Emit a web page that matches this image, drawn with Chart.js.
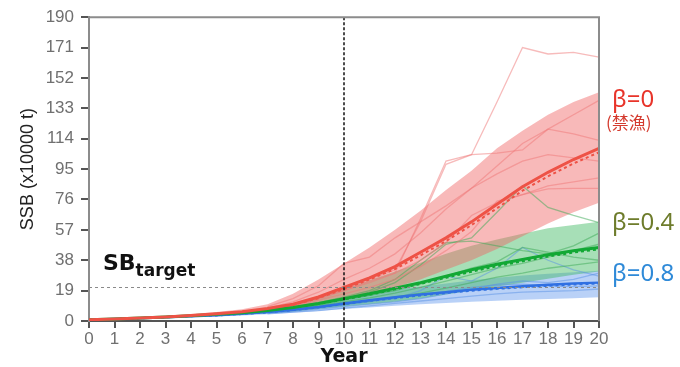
<!DOCTYPE html>
<html>
<head>
<meta charset="utf-8">
<script src="https://cdn.jsdelivr.net/npm/chart.js@4.4.1/dist/chart.umd.min.js"></script>
<style>
  html, body { margin: 0; padding: 0; background: #ffffff; }
  #wrap { width: 680px; height: 367px; }
</style>
</head>
<body>
<div id="wrap"><canvas id="c" width="680" height="367"></canvas></div>
<script>
// Years of the projection and the SSB axis ticks (x10000 t)
const years = [0,1,2,3,4,5,6,7,8,9,10,11,12,13,14,15,16,17,18,19,20];
const yTicks = [0,19,38,57,76,95,114,133,152,171,190];
const sbTarget = 21;
const currentYear = 10;

// β = 0 (no fishing): median, 90% band, mean and sample trajectories
const redMedian = [0.8,1.2,1.8,2.5,3.4,4.5,5.8,7.8,10.5,15,21,27,34,43,52,62,73,84,93,101,108];
const redUpper  = [1,1.5,2.3,3.2,4.3,5.6,7.3,10.5,17,26,36,46,57,69,82,94,108,119,129,137,143];
const redLower  = [0.6,0.9,1.4,2,2.7,3.5,4.5,6,8,10.5,14,17,21,26,32,38,45,53,61,68,74];
const redMean   = [0.8,1.2,1.8,2.5,3.3,4.4,5.6,7.5,10,14.3,20,26,32.5,41,50,60,70.5,81.5,90.5,98.5,105.5];
const redRun1 = [null,null,null,null,null,null,null,7.5,10,15,20,26,32,62,98,104,137,171,167,168,165];
const redRun2 = [null,null,null,null,null,null,null,7,9.5,14,19,25,30,64,100,104,105,107,120,129,138];
const redRun3 = [null,null,null,null,null,null,null,8,12,18,26,33,42,55,70,83,97,111,120,117,113];
const redRun4 = [null,null,null,null,null,null,null,7,10,14,19,24,30,38,49,66,74,79,84.5,87,89.5];
const redRun5 = [null,null,null,null,null,null,null,6.5,9,13,17,21,26,34,44,56,75,79,82.6,83,83];
const redRun6 = [null,null,null,null,null,null,null,9,14,22,36,40,52,62,72,83,92,100,104,102,100];

// β = 0.4
const greenMedian = [0.8,1.2,1.8,2.5,3.3,4.2,5.2,6.6,8.5,11,14,17,20.5,24,28,32,35.5,38.5,41.5,44,46];
const greenUpper  = [1,1.4,2.1,2.9,3.9,5,6.3,8.2,11,15,20,25.5,31,36.5,42,47,51,54.5,58,60,62];
const greenLower  = [0.6,0.9,1.4,2,2.6,3.2,3.9,4.8,6,7.5,9,10.5,12,14,16.5,19,21.5,24,26.5,29,31];
const greenMean   = [0.8,1.2,1.8,2.5,3.2,4.1,5.1,6.4,8.2,10.6,13.5,16.4,19.8,23.2,27,30.8,34.3,37.3,40.3,42.8,44.8];
const greenRun1 = [null,null,null,null,null,null,null,6.5,8.5,11,14,18,24,35,48,52,68,84.5,71,66,61.5];
const greenRun2 = [null,null,null,null,null,null,null,7,9,11.5,15,19,26,38,49,50,47,44,42,47,55];
const greenRun3 = [null,null,null,null,null,null,null,6,8,10,13,16,19,23,28,33,37,46,43,40,38];
const greenRun4 = [null,null,null,null,null,null,null,6,7.5,9.5,12,14.5,17.5,21,25,29,33,36,40,44,48];
const greenRun5 = [null,null,null,null,null,null,null,5.5,7,8.5,10.5,12.5,15,17.5,20.5,24,27.5,30,33,35,37];

// β = 0.8
const blueMedian = [0.8,1.2,1.7,2.3,3,3.6,4.5,5.6,7,8.8,11,13,14.8,16.5,18,19.5,20.7,21.7,22.6,23.4,24];
const blueUpper  = [1,1.4,2,2.7,3.5,4.3,5.4,6.8,8.8,11.3,14.5,17,19.5,21.5,23.5,25.5,27,28.5,29.5,30.5,31.5];
const blueLower  = [0.6,0.9,1.3,1.8,2.3,2.8,3.4,4.2,5.2,6.3,7.5,8.5,9.5,10.5,11.3,12,12.7,13.3,13.8,14.3,14.8];
const blueMean   = [0.8,1.2,1.7,2.3,3,3.5,4.4,5.4,6.8,8.5,10.6,12.6,14.3,16,17.5,18.9,20.1,21.1,22,22.8,23.4];
const blueRun1 = [null,null,null,null,null,null,null,5.5,7,8.5,10,12,14,19,28,25,33,46,38,32,28];
const blueRun2 = [null,null,null,null,null,null,null,5,6,7.5,9,10.5,12,14,17,20,23,25,24,26,30];
const blueRun3 = [null,null,null,null,null,null,null,4.5,5.5,6.5,8,9.5,11,12.5,14,15.5,17,18,18.5,19,20];
const blueRun4 = [null,null,null,null,null,null,null,5.5,7,8.5,10.5,12.5,14.5,16.5,18.5,21,22.5,23,22,21.5,22];

const groups = [
  { band: 'rgba(240,100,100,0.45)', run: 'rgba(240,120,120,0.5)', line: 'rgb(238,82,70)', width: 3,
    upper: redUpper, lower: redLower, median: redMedian, mean: redMean,
    runs: [redRun1, redRun2, redRun3, redRun4, redRun5, redRun6] },
  { band: 'rgba(60,185,95,0.45)', run: 'rgba(60,170,85,0.5)', line: 'rgb(18,168,52)', width: 3,
    upper: greenUpper, lower: greenLower, median: greenMedian, mean: greenMean,
    runs: [greenRun1, greenRun2, greenRun3, greenRun4, greenRun5] },
  { band: 'rgba(80,140,235,0.4)', run: 'rgba(90,145,230,0.5)', line: 'rgb(48,112,226)', width: 2.5,
    upper: blueUpper, lower: blueLower, median: blueMedian, mean: blueMean,
    runs: [blueRun1, blueRun2, blueRun3, blueRun4] }
];

const datasets = [];
groups.forEach(g => {
  // band: upper edge filled down to the lower edge (next dataset)
  datasets.push({ data: g.upper, borderWidth: 0, backgroundColor: g.band, fill: '+1', order: 40 });
  datasets.push({ data: g.lower, borderWidth: 0, fill: false, order: 40 });
  g.runs.forEach(r => datasets.push({ data: r, borderColor: g.run, borderWidth: 1.3, fill: false, order: 30 }));
  datasets.push({ data: g.mean, borderColor: g.line, borderWidth: 2, borderDash: [3, 3], fill: false, order: 20 });
  datasets.push({ data: g.median, borderColor: g.line, borderWidth: g.width, fill: false, order: 10 });
});

const overlay = {
  id: 'overlay',
  afterDatasetsDraw(chart) {
    const { ctx, chartArea: a, scales: { x, y } } = chart;
    ctx.save();
    // SB target reference line
    const ty = Math.round(y.getPixelForValue(sbTarget)) + 0.5;
    ctx.setLineDash([3, 3]);
    ctx.strokeStyle = '#8a8a8a';
    ctx.lineWidth = 1;
    ctx.beginPath(); ctx.moveTo(a.left, ty); ctx.lineTo(a.right, ty); ctx.stroke();
    // current year divider
    const cx = x.getPixelForValue(years.indexOf(currentYear));
    ctx.setLineDash([3, 2]);
    ctx.strokeStyle = '#111';
    ctx.lineWidth = 1.5;
    ctx.beginPath(); ctx.moveTo(cx, a.top); ctx.lineTo(cx, a.bottom); ctx.stroke();
    // top and right frame
    ctx.setLineDash([]);
    ctx.strokeStyle = '#8c8c8c';
    ctx.lineWidth = 2;
    ctx.beginPath(); ctx.moveTo(a.left, a.top); ctx.lineTo(a.right, a.top); ctx.lineTo(a.right, a.bottom); ctx.stroke();
    ctx.restore();
  },
  afterDraw(chart) {
    const { ctx, chartArea: a, scales: { y } } = chart;
    ctx.save();
    ctx.textBaseline = 'alphabetic';
    ctx.textAlign = 'left';
    // SB target label
    ctx.fillStyle = '#111';
    ctx.font = 'bold 22px "DejaVu Sans"';
    const sx = a.left + 14, sy = y.getPixelForValue(32);
    ctx.fillText('SB', sx, sy);
    const w = ctx.measureText('SB').width;
    ctx.font = 'bold 17px "DejaVu Sans"';
    ctx.fillText('target', sx + w, sy + 6);
    // scenario labels
    const lx = a.right + 13;
    ctx.font = '24px "Noto Sans"';
    ctx.fillStyle = '#e8342a';
    ctx.fillText('β=0', lx, y.getPixelForValue(134));
    ctx.font = '17px "Noto Sans CJK JP"';
    ctx.fillStyle = '#d43a2e';
    ctx.fillText('(禁漁)', lx - 6, y.getPixelForValue(120));
    ctx.font = '24px "Noto Sans"';
    ctx.fillStyle = '#6e7c2c';
    ctx.fillText('β=0.4', lx, y.getPixelForValue(57));
    ctx.fillStyle = '#2f8ad8';
    ctx.fillText('β=0.8', lx, y.getPixelForValue(25));
    ctx.restore();
  }
};

new Chart(document.getElementById('c'), {
  type: 'line',
  data: { labels: years, datasets },
  options: {
    responsive: false,
    devicePixelRatio: 1,
    animation: false,
    layout: { padding: { left: 0, right: 81, top: 15, bottom: 0 } },
    elements: { point: { radius: 0 }, line: { tension: 0 } },
    plugins: { legend: { display: false }, tooltip: { enabled: false } },
    scales: {
      x: {
        type: 'category',
        offset: false,
        grid: { display: true, drawOnChartArea: false, drawTicks: true, tickLength: 7, color: '#555', lineWidth: 2, offset: false },
        border: { display: true, color: '#555', width: 2 },
        ticks: { color: '#707070', font: { family: '"Liberation Sans", Arial', size: 17 }, autoSkip: false, maxRotation: 0, padding: 1 },
        title: { display: true, text: 'Year', color: '#111',
                 font: { family: '"DejaVu Sans"', weight: 'bold', size: 19, lineHeight: 1.0 }, padding: { top: 0, bottom: 0 } },
        afterFit(s) { s.height = 46; }
      },
      y: {
        type: 'linear',
        min: 0, max: 190,
        afterBuildTicks(s) { s.ticks = yTicks.map(v => ({ value: v })); },
        grid: { display: true, drawOnChartArea: false, drawTicks: true, tickLength: 8, color: '#555', lineWidth: 2 },
        border: { display: true, color: '#8c8c8c', width: 2 },
        ticks: { color: '#707070', font: { family: '"Liberation Sans", Arial', size: 17 }, padding: 7 },
        title: { display: true, text: 'SSB (x10000 t)', color: '#222',
                 font: { family: '"Liberation Sans", Arial', size: 18, lineHeight: 1.2 }, padding: { top: 17, bottom: 0 } },
        afterFit(s) { s.width = 89; }
      }
    }
  },
  plugins: [overlay]
});
</script>
</body>
</html>
